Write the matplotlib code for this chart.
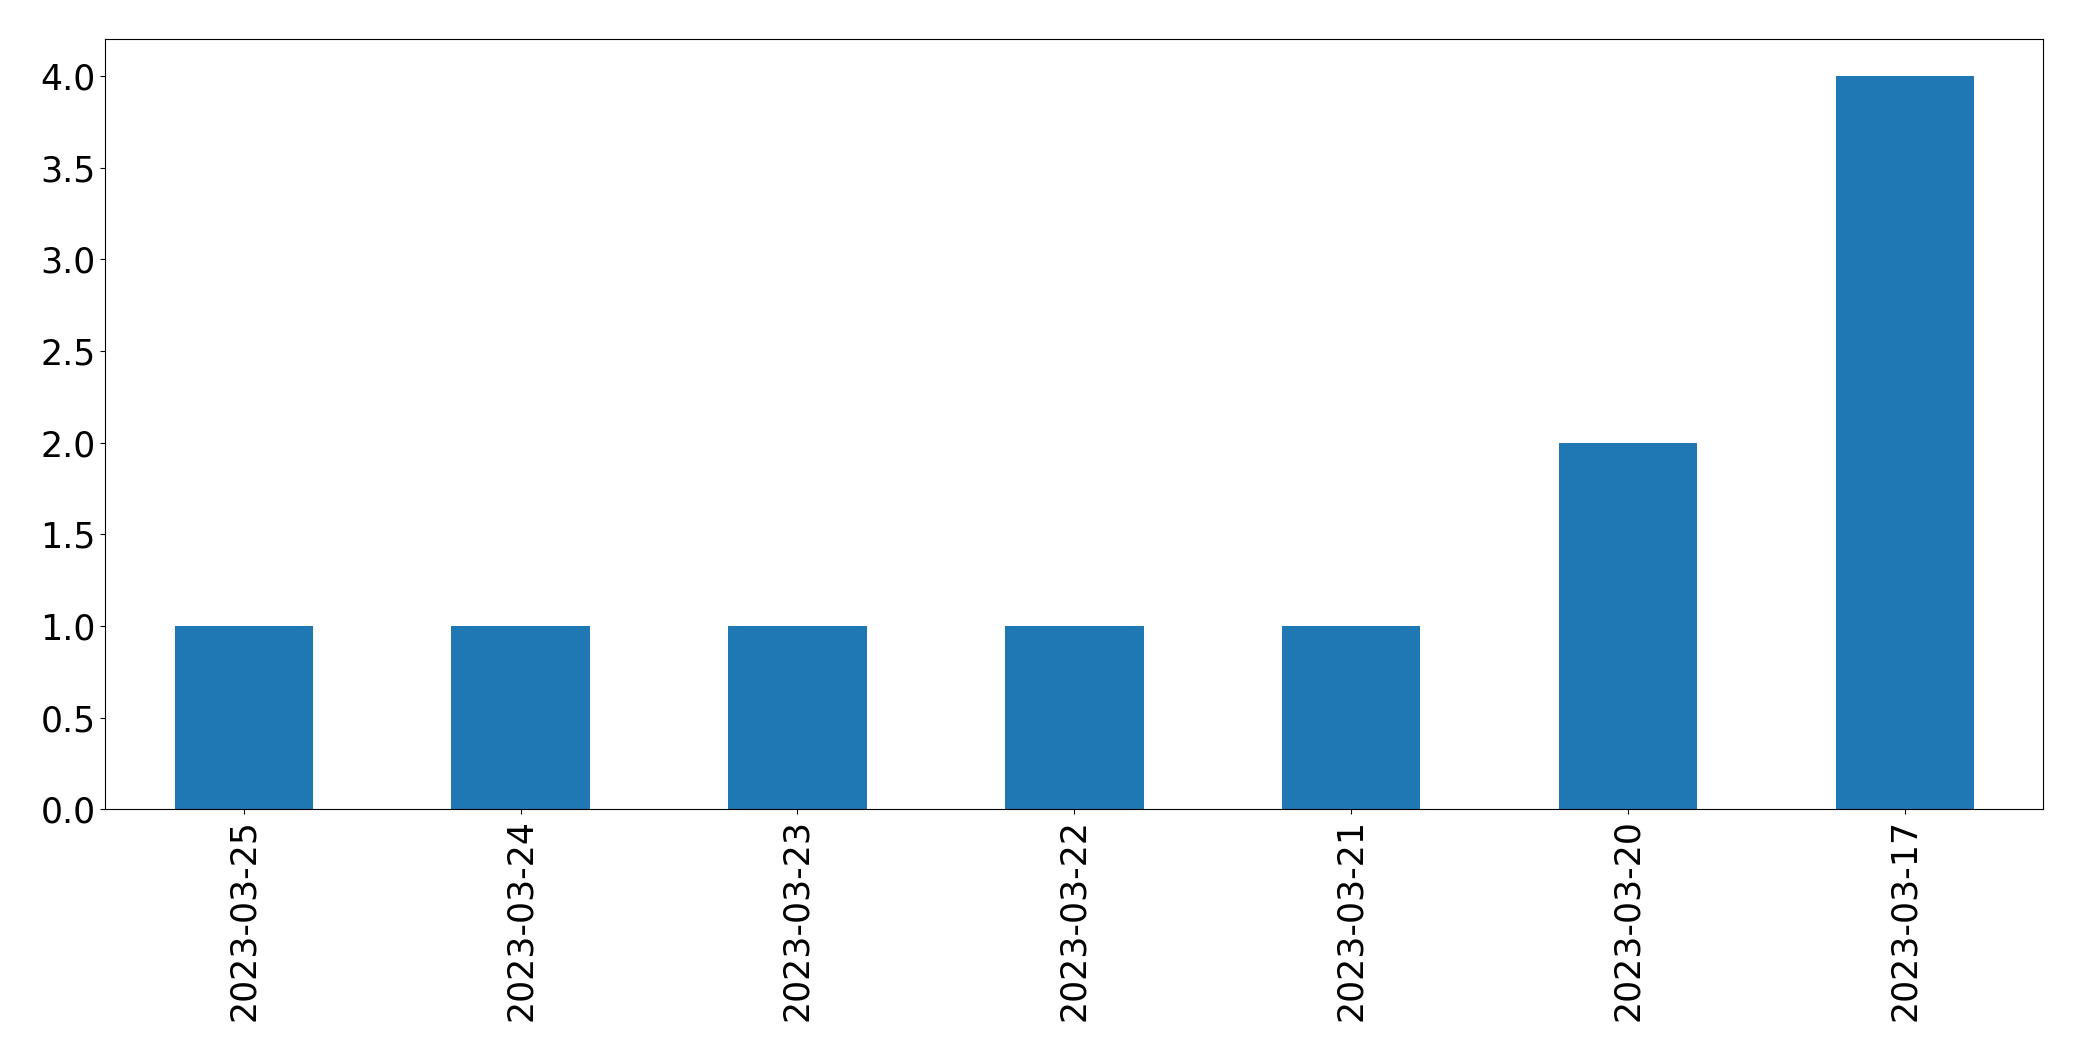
import numpy as np
import matplotlib
matplotlib.use("Agg")
import matplotlib.pyplot as plt

# Data
dates = ["2023-03-25", "2023-03-24", "2023-03-23", "2023-03-22",
         "2023-03-21", "2023-03-20", "2023-03-17"]
counts = [1, 1, 1, 1, 1, 2, 4]

fig = plt.figure(figsize=(20.82, 10.61), dpi=100)
ax = fig.add_axes([0.0506, 0.2372, 0.9308, 0.7258])

x = np.arange(len(dates))
ax.bar(x, counts, width=0.5, color="#1f77b4")
ax.set_xlim(-0.5, len(dates) - 0.5)
ax.set_ylim(0, 4.2)
ax.set_xticks(x)
ax.set_xticklabels(dates, rotation=90)
ax.set_yticks(np.arange(0, 4.01, 0.5))
ax.tick_params(labelsize=25)

fig.savefig("out.png", dpi=100)
